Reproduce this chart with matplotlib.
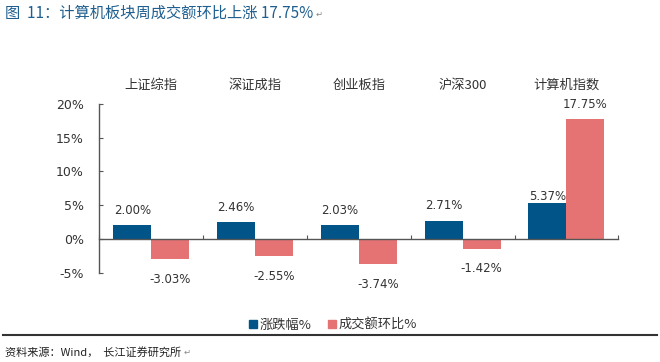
import matplotlib
matplotlib.use("Agg")
import matplotlib.pyplot as plt
from matplotlib.patches import Patch
from matplotlib.lines import Line2D
import numpy as np

plt.rcParams['font.family'] = ['Noto Sans CJK SC', 'DejaVu Sans']

categorias = ["上证综指", "深证成指", "创业板指", "沪深300", "计算机指数"]
zhangdiefu = [2.00, 2.46, 2.03, 2.71, 5.37]
huanbi = [-3.03, -2.55, -3.74, -1.42, 17.75]
serie_nombres = ["涨跌幅%", "成交额环比%"]
yticks = [-5, 0, 5, 10, 15, 20]

AZUL = '#005488'
ROSA = '#E57373'
GRIS = '#333333'

W, H = 660, 362
fig = plt.figure(figsize=(W / 100, H / 100), dpi=100)
ax = fig.add_axes([99.3 / W, 1 - 272.7 / H, (618.3 - 99.3) / W, (272.7 - 104) / H])

x = np.arange(len(categorias))
ancho = 0.366
b1 = ax.bar(x - ancho / 2, zhangdiefu, ancho, color=AZUL, zorder=2)
b2 = ax.bar(x + ancho / 2, huanbi, ancho, color=ROSA, zorder=2)

ax.set_xlim(-0.5, len(categorias) - 0.5)
ax.set_ylim(-5, 20)

# ejes
for s in ['top', 'right']:
    ax.spines[s].set_visible(False)
ax.spines['bottom'].set_position(('data', 0))
for s in ['left', 'bottom']:
    ax.spines[s].set_color('#555555')
    ax.spines[s].set_linewidth(1.0)

ax.set_xticks(np.arange(-0.5, len(categorias)))
ax.set_xticklabels([])
ax.tick_params(axis='x', direction='in', length=3, color='#555555')
ax.set_yticks(yticks)
ax.set_yticklabels([f"{v}%" for v in yticks], fontfamily='DejaVu Sans',
                   fontsize=9, color=GRIS)
ax.tick_params(axis='y', direction='in', length=3, pad=11, color='#555555')

# nombres de categoria arriba
for i, nombre in enumerate(categorias):
    ax.text(i, 1.112, nombre, transform=ax.get_xaxis_transform(),
            ha='center', va='center', fontsize=9.5, color=GRIS)

# etiquetas de valores
def etiquetar(barras, valores):
    for barra, v in zip(barras, valores):
        cx = barra.get_x() + barra.get_width() / 2
        if v >= 0:
            dy = 6 if v > 5 and v < 10 else 15
        else:
            dy = -20
        ax.annotate(f"{v:.2f}%", (cx, v), xytext=(0, dy), textcoords='offset pixels',
                    ha='center', va='center', fontsize=8.5, color=GRIS,
                    fontfamily='DejaVu Sans', annotation_clip=False)

etiquetar(b1, zhangdiefu)
etiquetar(b2, huanbi)

# leyenda
handles = [Patch(color=AZUL), Patch(color=ROSA)]
fig.legend(handles, serie_nombres, loc='center', bbox_to_anchor=(333 / W, 1 - 325 / H),
           ncol=2, frameon=False, fontsize=9.5, handlelength=0.6, handleheight=0.6,
           handletextpad=0.2, columnspacing=1.2, labelcolor=GRIS)

# titulo y fuente
titulo = fig.text(5 / W, 1 - 13 / H, "图  11：计算机板块周成交额环比上涨 17.75%",
                  fontsize=11, color='#1F5F8F', va='center', ha='left')
fig.add_artist(Line2D([3 / W, 657 / W], [1 - 335 / H] * 2, color='#333333', lw=1.5))
fuente = fig.text(5 / W, 1 - 352 / H, "资料来源：Wind，  长江证券研究所",
                  fontsize=8, color='#222222', va='center', ha='left')
for t in (titulo, fuente):
    fig.add_artist(plt.Annotation("↵", xy=(1, 0.45), xycoords=t, xytext=(2, 0),
                                  textcoords='offset points', fontsize=6,
                                  color='#888888', va='center', ha='left',
                                  fontfamily='DejaVu Sans'))

fig.savefig("out.png", dpi=100)
